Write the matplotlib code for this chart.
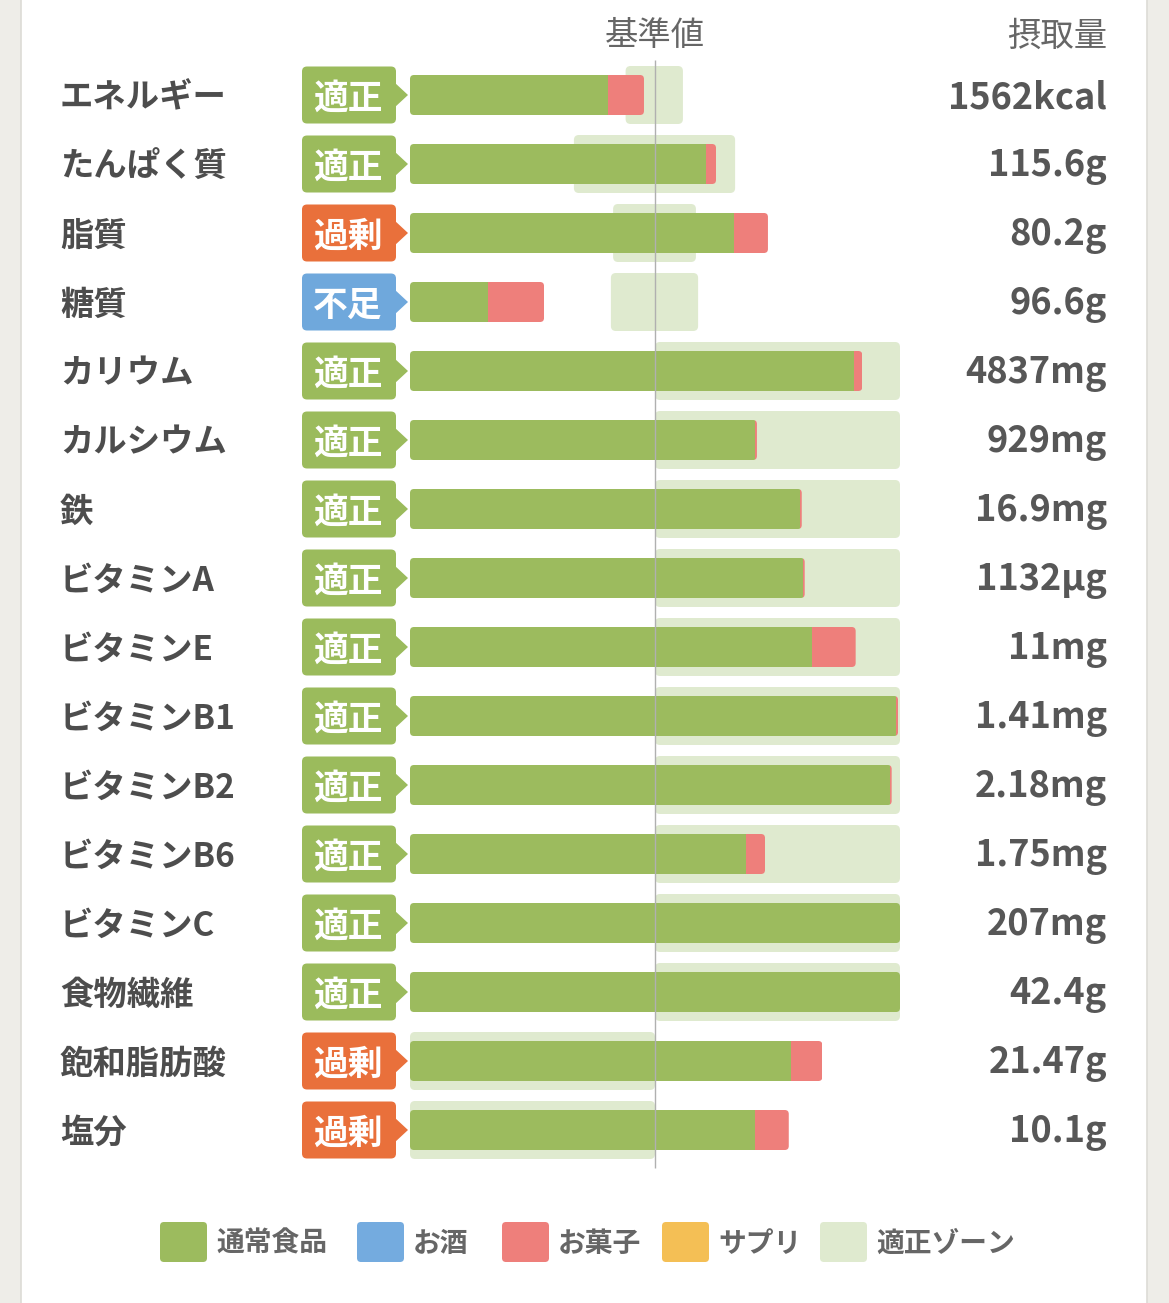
import matplotlib
matplotlib.use('Agg')
import matplotlib.pyplot as plt
from matplotlib.patches import FancyBboxPatch, Polygon, Rectangle

plt.rcParams['font.family'] = ['Noto Sans CJK JP', 'DejaVu Sans']

# ---- data (percent of 基準値, bars capped at 200%) ----
nutrients = ['エネルギー', 'たんぱく質', '脂質', '糖質', 'カリウム', 'カルシウム', '鉄',
             'ビタミンA', 'ビタミンE', 'ビタミンB1', 'ビタミンB2', 'ビタミンB6',
             'ビタミンC', '食物繊維', '飽和脂肪酸', '塩分']
status = ['適正', '適正', '過剰', '不足', '適正', '適正', '適正', '適正',
          '適正', '適正', '適正', '適正', '適正', '適正', '過剰', '過剰']
intake = ['1562kcal', '115.6g', '80.2g', '96.6g', '4837mg', '929mg', '16.9mg',
          '1132µg', '11mg', '1.41mg', '2.18mg', '1.75mg', '207mg', '42.4g',
          '21.47g', '10.1g']
food_pct = [80.8, 120.8, 132.2, 31.8, 181.2, 140.9, 159.2, 160.3, 163.9,
            198.5, 195.8, 137.1, 200.0, 200.0, 155.4, 140.7]
alcohol_pct = [0] * 16
snack_pct = [14.7, 4.1, 13.9, 22.9, 3.4, 0.7, 0.7, 0.8, 18.0, 0.7, 0.8,
             7.8, 0, 0, 12.9, 13.9]
supplement_pct = [0] * 16
zone_lo = [88.0, 66.9, 82.9, 82.0, 100, 100, 100, 100, 100, 100, 100, 100,
           100, 100, 0, 0]
zone_hi = [111.4, 132.7, 116.7, 117.6, 200, 200, 200, 200, 200, 200, 200,
           200, 200, 200, 100, 100]

series = [('通常食品', food_pct, '#9cbb5e'),
          ('お酒', alcohol_pct, '#74abdf'),
          ('お菓子', snack_pct, '#ee7f7b'),
          ('サプリ', supplement_pct, '#f4bf55')]
zone_label, zone_color = '適正ゾーン', '#dfeacf'
badge_colors = {'適正': '#9bbb5c', '過剰': '#e9703b', '不足': '#6fa8dc'}

# ---- layout (pixels) ----
W, H = 1169, 1303
X0, PX = 410, 2.45        # 0% at x=410px, 2.45px per percent
ROW0, ROW_H = 95, 69      # first row centre, row pitch
ASPECT = PX / ROW_H
DY = 3 / ROW_H            # text sits a touch lower than the bar centre


def px_x(p):
    return (p - X0) / PX


def px_y(p):
    return (p - ROW0) / ROW_H


def rbox(ax, x0, x1, yc, h_px, r_px, color, z):
    h = h_px / ROW_H
    patch = FancyBboxPatch((x0, yc - h / 2), x1 - x0, h,
                           boxstyle=f'round,pad=0,rounding_size={r_px / PX}',
                           mutation_aspect=ASPECT, fc=color, ec='none', zorder=z)
    ax.add_patch(patch)
    return patch


fig = plt.figure(figsize=(W / 100, H / 100), dpi=100, facecolor='#eeede8')
fig.patches.append(Rectangle((21 / W, -0.01), (1147 - 21) / W, 1.02, transform=fig.transFigure,
                             fc='white', ec='#dddcd6', lw=1.2, zorder=-1))
ax = fig.add_axes([0, 0, 1, 1])
ax.set_xlim(px_x(0), px_x(W))
ax.set_ylim(px_y(H), px_y(0))
ax.axis('off')

rows = list(range(len(nutrients)))

# zones
for i in rows:
    rbox(ax, zone_lo[i], zone_hi[i], i, 58, 5, zone_color, 1)

# stacked bars clipped to a rounded outline
totals = [sum(s[1][i] for s in series) for i in rows]
clips = [rbox(ax, 0, totals[i], i, 40, 4, 'none', 2) for i in rows]
left = [0.0] * len(rows)
for name, vals, color in series:
    bars = ax.barh(rows, vals, left=left, height=40 / ROW_H, color=color, zorder=3)
    for i, rect in enumerate(bars):
        rect.set_clip_path(clips[i])
    left = [l + v for l, v in zip(left, vals)]

# 基準値 line
ax.vlines(100, px_y(60), px_y(1168), color='#b0b0b0', lw=1, zorder=4)

# labels, badges, values
for i in rows:
    ax.text(px_x(60), i + DY, nutrients[i], ha='left', va='center', fontsize=24,
            fontweight='bold', color='#4d4d4d')
    c = badge_colors[status[i]]
    rbox(ax, px_x(302), px_x(396), i, 57, 5, c, 3)
    ax.add_patch(Polygon([(px_x(394), i - 13 / ROW_H), (px_x(408), i),
                          (px_x(394), i + 13 / ROW_H)], closed=True, fc=c, ec='none', zorder=3))
    ax.text(px_x(348), i + DY, status[i], ha='center', va='center', fontsize=25,
            fontweight='bold', color='white', zorder=5)
    ax.text(px_x(1107), i + DY, intake[i], ha='right', va='center', fontsize=26,
            fontweight='bold', color='#575757')

ax.text(100, px_y(36), '基準値', ha='center', va='center', fontsize=24, color='#666666')
ax.text(px_x(1107), px_y(36), '摂取量', ha='right', va='center', fontsize=24, color='#666666')

# legend
legend_items = [(s[0], s[2]) for s in series] + [(zone_label, zone_color)]
legend_x = [160, 357, 502, 662, 820]
for (name, color), lx in zip(legend_items, legend_x):
    ax.add_patch(FancyBboxPatch((px_x(lx), px_y(1222)), 47 / PX, 40 / ROW_H,
                                boxstyle=f'round,pad=0,rounding_size={4 / PX}',
                                mutation_aspect=ASPECT, fc=color, ec='none'))
    ax.text(px_x(lx + 56), px_y(1244), name, ha='left', va='center', fontsize=20,
            fontweight='bold', color='#666666')

fig.savefig('out.png', dpi=100, facecolor=fig.get_facecolor())
